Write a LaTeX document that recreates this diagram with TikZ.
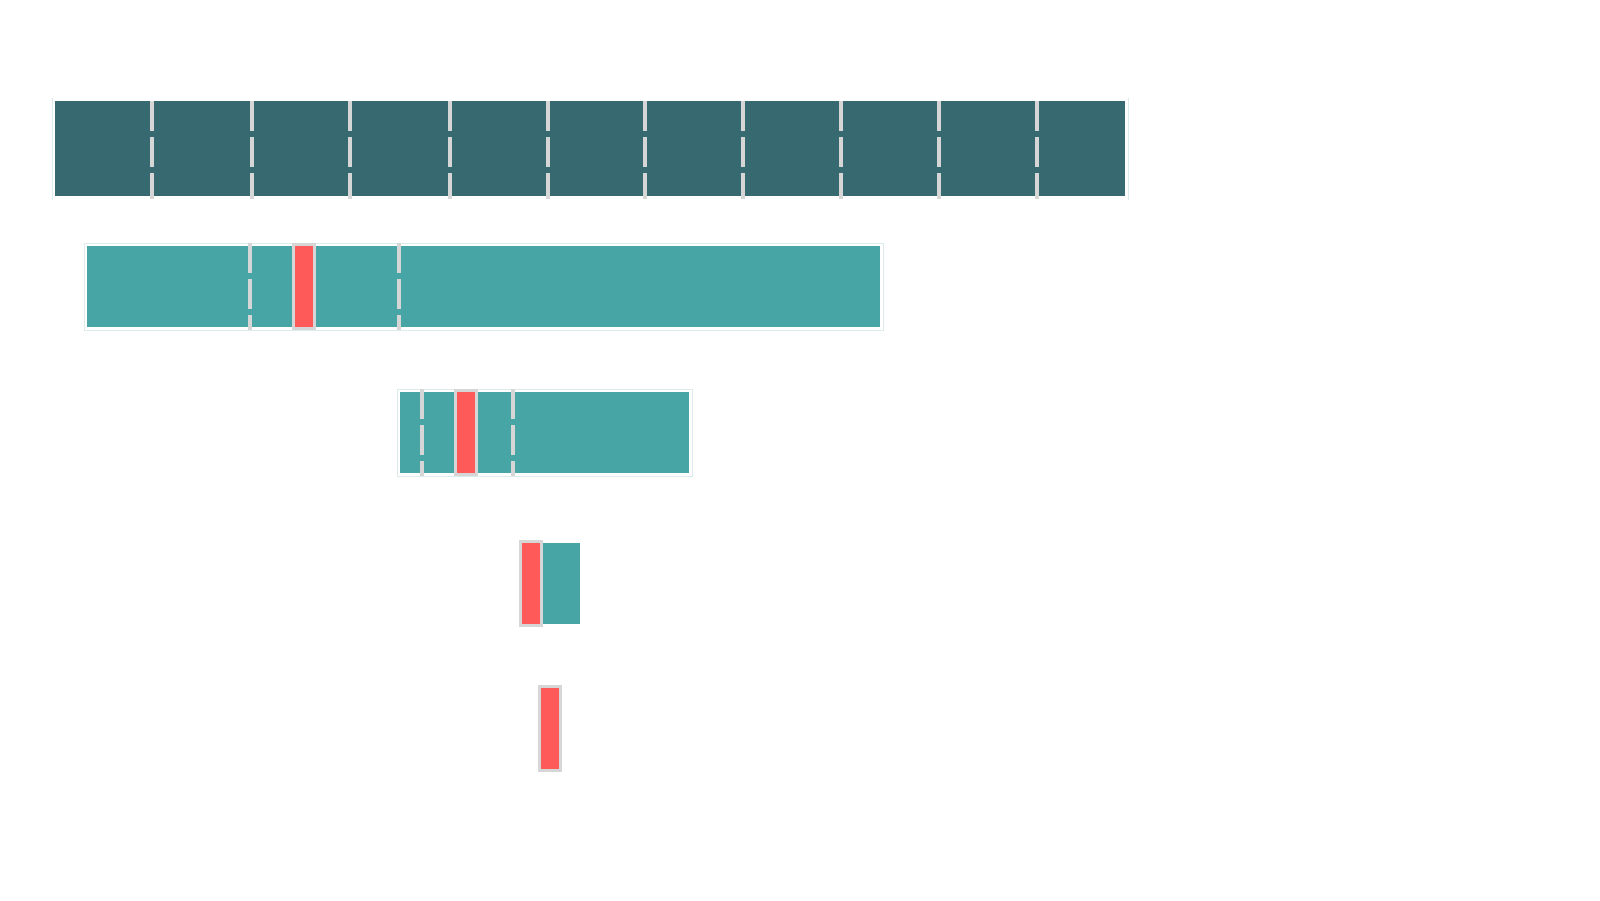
\documentclass[tikz,border=0pt]{standalone}
\begin{document}
\definecolor{dark}{HTML}{376A70}
\definecolor{tealc}{HTML}{47A5A5}
\definecolor{redd}{HTML}{FF5A5A}
\definecolor{gry}{HTML}{D6D6D6}
\definecolor{edgec}{HTML}{DCEBEB}
\begin{tikzpicture}[x=1pt,y=-1pt,
  sepline/.style={gry,line width=4pt,dash pattern=on 30pt off 6pt},
  redbar/.style={fill=redd,draw=gry,line width=3pt},
  framebox/.style={draw=edgec,line width=0.8pt}]
\useasboundingbox (0,0) rectangle (1600,900);
% row 1
\draw[edgec,line width=1pt] (52,98) -- (52,200);
\draw[edgec,line width=1pt] (1128,98) -- (1128,200);
\fill[dark] (55,101) rectangle (1125,196);
\foreach \x in {152,252,350,450,548,645,743,841,939,1037}
  \draw[sepline] (\x,101) -- (\x,199);
% row 2
\draw[framebox] (84,243) rectangle (883,330);
\fill[tealc] (87,246) rectangle (880,327);
\foreach \x in {250,399} \draw[sepline] (\x,243) -- (\x,330);
\draw[redbar] (293.5,244.5) rectangle (314.5,328.5);
% row 3
\draw[framebox] (397,389) rectangle (692,476);
\fill[tealc] (400,392) rectangle (689,473);
\foreach \x in {422,513} \draw[sepline] (\x,389) -- (\x,476);
\draw[redbar] (455.5,390.5) rectangle (476.5,474.5);
% row 4
\fill[tealc] (543,543) rectangle (580,624);
\draw[redbar] (520.5,541.5) rectangle (541.5,625.5);
% row 5
\draw[redbar] (539.5,686.5) rectangle (560.5,770.5);
\end{tikzpicture}
\end{document}
